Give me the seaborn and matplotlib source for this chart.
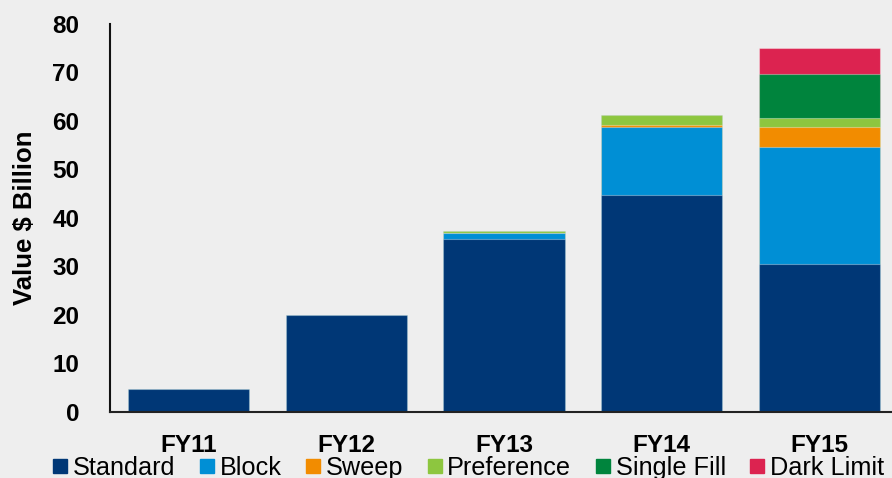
import matplotlib
matplotlib.use("Agg")
import matplotlib.pyplot as plt
from matplotlib.lines import Line2D
import seaborn as sns
import numpy as np
import pandas as pd

# values ($ billion)
years = ["FY11", "FY12", "FY13", "FY14", "FY15"]
standard = [4.8, 19.9, 35.6, 44.7, 30.5]
block = [0.0, 0.0, 1.2, 14.0, 24.1]
sweep = [0.0, 0.0, 0.1, 0.5, 4.2]
preference = [0.0, 0.0, 0.3, 2.0, 1.7]
single_fill = [0.0, 0.0, 0.0, 0.0, 9.2]
dark_limit = [0.0, 0.0, 0.0, 0.0, 5.3]

series = ["Standard", "Block", "Sweep", "Preference", "Single Fill", "Dark Limit"]
colors = ["#003776", "#008FD5", "#F28C00", "#8DC63F", "#00843D", "#DC2350"]

df = pd.DataFrame({"Standard": standard, "Block": block, "Sweep": sweep,
                   "Preference": preference, "Single Fill": single_fill,
                   "Dark Limit": dark_limit}, index=years)
cum = df.cumsum(axis=1)

bg = "#EEEEEE"
sns.set_style("white")
plt.rcParams['font.family'] = ['Liberation Sans', 'DejaVu Sans']

fig = plt.figure(figsize=(8.92, 4.78), dpi=100, facecolor=bg)
ax = fig.add_axes([0.1233, 0.1381, 0.8834, 0.8123])
ax.set_facecolor(bg)

# stacked bars: draw cumulative totals from the top series down
for name, col in zip(series[::-1], colors[::-1]):
    sns.barplot(x=years, y=cum[name].values, color=col, width=0.77,
                saturation=1, edgecolor=(1, 1, 1, 0.35), linewidth=0.8, ax=ax)

ax.set_xlim(-0.5, 4.5)
ax.set_ylim(0, 80)
ax.set_yticks(range(0, 81, 10))
for s in ["top", "right"]:
    ax.spines[s].set_visible(False)
ax.spines["left"].set_linewidth(1.5)
ax.spines["left"].set_color("#111111")
ax.spines["bottom"].set_linewidth(1.5)
ax.spines["bottom"].set_color("#222222")
ax.tick_params(axis="y", direction="in", length=6, width=1.3, pad=22,
               labelsize=17.5, colors="#000000")
ax.tick_params(axis="x", length=0, pad=16, labelsize=17.5, colors="#000000")
for t in ax.get_yticklabels() + ax.get_xticklabels():
    t.set_fontweight("bold")
ax.set_ylabel("Value $ Billion", fontsize=18.5, fontweight="bold", color="#000000")
ax.yaxis.set_label_coords(-0.092, 0.5)

handles = [Line2D([], [], marker="s", linestyle="none", markersize=9.5,
                  markerfacecolor=c, markeredgecolor=c) for c in colors]
fig.legend(handles, series, loc="lower center", ncol=6, frameon=False,
           bbox_to_anchor=(0.525, -0.026), fontsize=18.2, handlelength=0.6,
           handletextpad=0.2, columnspacing=0.95, borderaxespad=0,
           labelcolor="#000000")

fig.savefig("out.png", dpi=100, facecolor=bg)
